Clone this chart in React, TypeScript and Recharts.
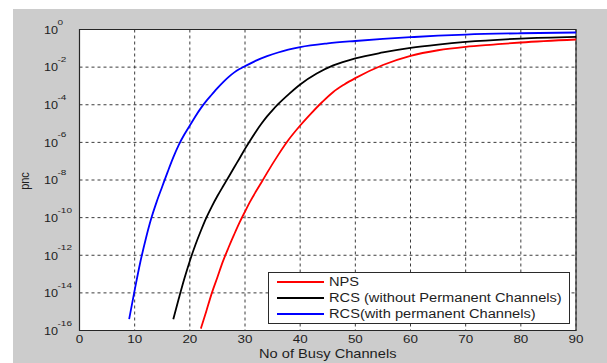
import React from 'react';
import {
  LineChart,
  Line,
  XAxis,
  YAxis,
  CartesianGrid,
  Legend,
  ReferenceArea,
  Label,
} from 'recharts';

// Axis ticks
const xTicks = [0, 10, 20, 30, 40, 50, 60, 70, 80, 90];
const yTicks = [1e-16, 1e-14, 1e-12, 1e-10, 1e-8, 1e-6, 1e-4, 1e-2, 1];

// NPS
const npsChannels = [22, 23, 24, 25, 26, 27, 28, 29, 30, 31, 32, 33, 34, 36, 38, 40, 42, 44, 46, 48, 50, 55, 60, 65, 70, 75, 80, 90];
const npsPnc = [1.26e-16, 1.1e-15, 1e-14, 6.8e-14, 4.7e-13, 2.5e-12, 1.2e-11, 5.4e-11, 2.1e-10, 7.8e-10, 2.5e-9, 7.6e-9, 2.4e-8, 2.1e-7, 1.5e-6, 7.9e-6, 3.5e-5, 1.4e-4, 4.8e-4, 1.2e-3, 2.6e-3, 1.3e-2, 4.0e-2, 7.9e-2, 0.12, 0.158, 0.204, 0.295];

// RCS without permanent channels
const rcsChannels = [17, 18, 19, 20, 21, 22, 23, 24, 25, 26, 27, 28, 29, 30, 31, 32, 33, 34, 35, 36, 38, 40, 43, 46, 50, 55, 60, 65, 70, 80, 90];
const rcsPnc = [4e-16, 5e-15, 5.6e-14, 5e-13, 3.5e-12, 2e-11, 1e-10, 4e-10, 1.4e-9, 4.5e-9, 1.4e-8, 4.5e-8, 1.4e-7, 4.5e-7, 1.35e-6, 3.8e-6, 1e-5, 2.4e-5, 5.2e-5, 1.07e-4, 3.8e-4, 1.2e-3, 4.6e-3, 1.23e-2, 2.95e-2, 6e-2, 0.105, 0.158, 0.219, 0.331, 0.407];

// RCS with permanent channels
const rcsPermChannels = [9, 10, 11, 12, 13, 14, 15, 16, 17, 18, 19, 20, 21, 22, 23, 24, 25, 26, 27, 28, 29, 30, 32, 34, 36, 40, 45, 50, 55, 60, 65, 70, 80, 90];
const rcsPermPnc = [4e-16, 1.4e-14, 4e-13, 7.1e-12, 8.9e-11, 7.1e-10, 4.5e-9, 2.8e-8, 1.6e-7, 7.4e-7, 2.6e-6, 7.9e-6, 2.4e-5, 6.6e-5, 1.6e-4, 3.5e-4, 7.6e-4, 1.55e-3, 2.95e-3, 5.1e-3, 7.9e-3, 1.12e-2, 2.2e-2, 3.8e-2, 6.0e-2, 0.115, 0.182, 0.245, 0.316, 0.389, 0.468, 0.537, 0.631, 0.692];

const toRows = (xs: number[], ps: number[]) => xs.map((x, i) => ({ x, p: ps[i] }));

const npsData = toRows(npsChannels, npsPnc);
const rcsData = toRows(rcsChannels, rcsPnc);
const rcsPermData = toRows(rcsPermChannels, rcsPermPnc);

const FONT = '"Liberation Sans", Arial, Helvetica, sans-serif';
const TEXT = '#1e1e1e';
const STRETCH = 1.22;

function XTick(props: any) {
  const { x, y, payload } = props;
  return (
    <g transform={`translate(${x},${y + 12.8})`}>
      <text
        transform={`scale(${STRETCH},1)`}
        textAnchor="middle"
        fontSize={11}
        fontFamily={FONT}
        fill={TEXT}
      >
        {payload.value}
      </text>
    </g>
  );
}

function YTick(props: any) {
  const { x, y, payload } = props;
  const exp = Math.round(Math.log10(payload.value));
  return (
    <g transform={`translate(${x - 35.5},${y})`} fontFamily={FONT} fill={TEXT}>
      <text x={0} y={4.3} fontSize={11.5} transform="scale(1.1,1)">
        10
      </text>
      <text x={13.5 / 1.25} y={-5} fontSize={8} transform="scale(1.25,1)">
        {exp}
      </text>
    </g>
  );
}

function TitleLabel(props: any) {
  const vb = props.viewBox || {};
  const cx = vb.x + vb.width / 2;
  return (
    <g transform={`translate(${cx},${vb.y - 8})`}>
      <text
        transform="scale(1.22,1)"
        textAnchor="middle"
        fontSize={12.5}
        fontFamily={FONT}
        fill={TEXT}
      >
        porbability of not completed calls Pnc
      </text>
    </g>
  );
}

function XTitle(props: any) {
  const vb = props.viewBox || {};
  const cx = vb.x + vb.width / 2;
  return (
    <g transform={`translate(${cx},${vb.y + 27.5})`}>
      <text
        transform={`scale(${STRETCH},1)`}
        textAnchor="middle"
        fontSize={12}
        fontFamily={FONT}
        fill={TEXT}
      >
        No of Busy Channels
      </text>
    </g>
  );
}

function YTitle(props: any) {
  const vb = props.viewBox || {};
  const cy = vb.y + vb.height / 2 + 1;
  return (
    <g transform={`translate(${29},${cy}) scale(1.15,1) rotate(-90)`}>
      <text textAnchor="middle" fontSize={11} fontFamily={FONT} fill={TEXT}>
        pnc
      </text>
    </g>
  );
}

function LegendBox(props: any) {
  const items = props.payload || [];
  return (
    <div
      style={{
        width: 302,
        height: 52,
        boxSizing: 'border-box',
        border: '1px solid #2a2a2a',
        background: '#fff',
        paddingTop: 1,
        fontFamily: FONT,
      }}
    >
      {items.map((item: any) => (
        <div
          key={item.value}
          style={{ display: 'flex', alignItems: 'center', height: 16 }}
        >
          <span
            style={{
              display: 'inline-block',
              width: 47,
              height: 2,
              marginLeft: 8,
              background: item.color,
            }}
          />
          <span
            style={{
              display: 'inline-block',
              marginLeft: 5,
              fontSize: 12,
              lineHeight: '16px',
              color: TEXT,
              whiteSpace: 'nowrap',
              transform: `scaleX(${STRETCH})`,
              transformOrigin: 'left center',
            }}
          >
            {item.value}
          </span>
        </div>
      ))}
    </div>
  );
}

export default function App() {
  return (
    <div
      style={{
        position: 'absolute',
        left: 0,
        top: 0,
        width: 607,
        height: 363,
        background: '#ffffff',
        overflow: 'hidden',
      }}
    >
      <div
        style={{
          position: 'absolute',
          left: 13,
          top: 9,
          right: 0,
          bottom: 0,
          background: '#cccccc',
        }}
      />
      <div style={{ position: 'absolute', left: 0, top: 0 }}>
        <LineChart
          width={607}
          height={363}
          margin={{ top: 29.5, right: 31, bottom: 0, left: 0 }}
        >
          <CartesianGrid
            stroke="#3c3c3c"
            strokeDasharray="3 3"
            fill="#ffffff"
            fillOpacity={1}
          />
          <XAxis
            dataKey="x"
            type="number"
            domain={[0, 90]}
            ticks={xTicks}
            height={32.5}
            axisLine={false}
            tickLine={false}
            tickSize={0}
            tickMargin={0}
            tick={<XTick />}
            allowDataOverflow
          >
            <Label content={<XTitle />} />
          </XAxis>
          <XAxis
            xAxisId="top"
            orientation="top"
            type="number"
            domain={[0, 90]}
            height={0}
            axisLine={false}
            tickLine={false}
            tick={false}
          >
            <Label content={<TitleLabel />} />
          </XAxis>
          <YAxis
            type="number"
            scale="log"
            domain={[1e-16, 1]}
            ticks={yTicks}
            width={79.5}
            axisLine={false}
            tickLine={false}
            tickSize={0}
            tickMargin={0}
            tick={<YTick />}
            allowDataOverflow
          >
            <Label content={<YTitle />} />
          </YAxis>
          <Legend
            layout="horizontal"
            verticalAlign="middle"
            align="center"
            content={<LegendBox />}
            wrapperStyle={{ left: 268, top: 272, width: 302, height: 52, right: 'auto', bottom: 'auto' }}
          />
          <Line
            data={npsData}
            dataKey="p"
            name="NPS"
            type="monotone"
            stroke="#ff0000"
            strokeWidth={1.8}
            dot={false}
            isAnimationActive={false}
          />
          <Line
            data={rcsData}
            dataKey="p"
            name="RCS (without Permanent Channels)"
            type="monotone"
            stroke="#000000"
            strokeWidth={1.8}
            dot={false}
            isAnimationActive={false}
          />
          <Line
            data={rcsPermData}
            dataKey="p"
            name="RCS(with permanent Channels)"
            type="monotone"
            stroke="#0000ff"
            strokeWidth={1.8}
            dot={false}
            isAnimationActive={false}
          />
          <ReferenceArea
            x1={0}
            x2={90}
            y1={1e-16}
            y2={1}
            fill="none"
            stroke="#262626"
            strokeWidth={1.2}
            ifOverflow="visible"
          />
        </LineChart>
      </div>
    </div>
  );
}
